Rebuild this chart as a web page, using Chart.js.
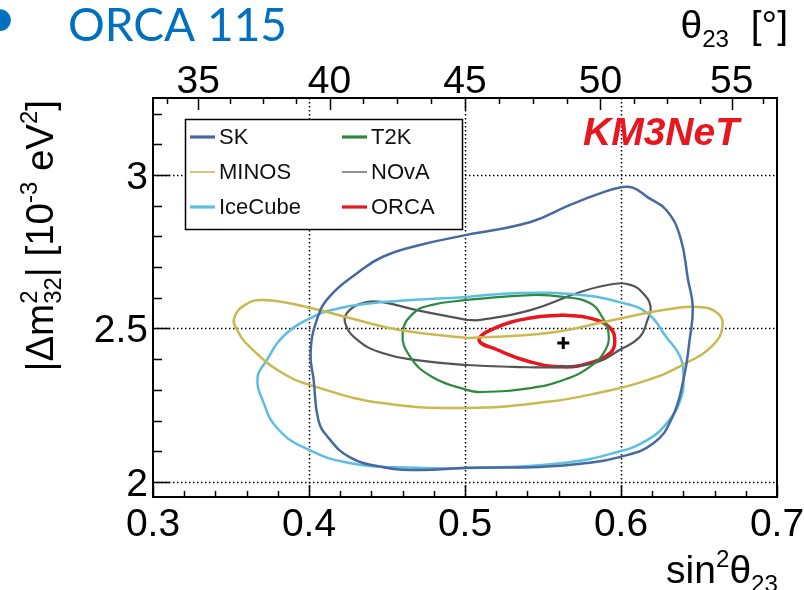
<!DOCTYPE html>
<html>
<head>
<meta charset="utf-8">
<script src="https://cdn.jsdelivr.net/npm/chart.js@4.4.1/dist/chart.umd.min.js"></script>
<style>
  html, body { margin: 0; padding: 0; background: #fff; }
  #wrap { width: 804px; height: 590px; }
</style>
</head>
<body>
<div id="wrap"><canvas id="c" width="804" height="590"></canvas></div>
<script>
// Allowed regions (90% CL) in the sin^2(theta23) – |dm^2_32| plane.

// Axis ticks and labels
const xMajor = [0.3, 0.4, 0.5, 0.6, 0.7];
const xLabels = ['0.3', '0.4', '0.5', '0.6', '0.7'];
const xGrid = [0.4, 0.5, 0.6];
const yMajor = [2, 2.5, 3];
const yLabels = ['2', '2.5', '3'];
const yGrid = [2, 2.5, 3];
const thetaMajor = [35, 40, 45, 50, 55];
const thetaLabels = ['35', '40', '45', '50', '55'];

// Contour outlines (sin^2 theta23, |dm^2_32| in 1e-3 eV^2)
const skX = [0.501, 0.542, 0.567, 0.587, 0.601, 0.608, 0.617, 0.629, 0.638, 0.643, 0.646, 0.644, 0.640, 0.633, 0.621, 0.599, 0.574, 0.548, 0.501, 0.471, 0.447, 0.426, 0.412, 0.406, 0.403, 0.401, 0.405, 0.413, 0.431, 0.447, 0.471];
const skY = [2.805, 2.847, 2.902, 2.941, 2.961, 2.958, 2.928, 2.886, 2.798, 2.658, 2.570, 2.463, 2.332, 2.212, 2.127, 2.081, 2.059, 2.049, 2.046, 2.039, 2.049, 2.081, 2.147, 2.202, 2.332, 2.420, 2.528, 2.603, 2.681, 2.733, 2.772];

const minosX = [0.501, 0.553, 0.595, 0.627, 0.649, 0.662, 0.665, 0.659, 0.642, 0.617, 0.585, 0.553, 0.501, 0.447, 0.405, 0.383, 0.362, 0.354, 0.352, 0.359, 0.371, 0.401, 0.426, 0.458];
const minosY = [2.469, 2.485, 2.528, 2.560, 2.570, 2.550, 2.505, 2.446, 2.388, 2.332, 2.290, 2.261, 2.241, 2.257, 2.309, 2.355, 2.440, 2.495, 2.534, 2.577, 2.593, 2.567, 2.534, 2.495];

const iceX = [0.501, 0.535, 0.574, 0.599, 0.617, 0.629, 0.638, 0.640, 0.638, 0.631, 0.617, 0.595, 0.563, 0.510, 0.469, 0.426, 0.396, 0.379, 0.371, 0.367, 0.373, 0.383, 0.401, 0.420, 0.447];
const iceY = [2.603, 2.616, 2.609, 2.586, 2.550, 2.472, 2.407, 2.332, 2.267, 2.202, 2.137, 2.094, 2.062, 2.046, 2.046, 2.062, 2.114, 2.179, 2.257, 2.339, 2.397, 2.472, 2.534, 2.567, 2.586];

const t2kX = [0.501, 0.542, 0.563, 0.580, 0.588, 0.592, 0.590, 0.580, 0.563, 0.542, 0.510, 0.501, 0.479, 0.465, 0.460, 0.467, 0.479];
const t2kY = [2.593, 2.609, 2.603, 2.583, 2.537, 2.485, 2.430, 2.375, 2.332, 2.306, 2.293, 2.300, 2.342, 2.407, 2.485, 2.550, 2.577];

const novaX = [0.501, 0.510, 0.542, 0.574, 0.595, 0.606, 0.614, 0.619, 0.617, 0.612, 0.599, 0.585, 0.563, 0.531, 0.501, 0.469, 0.447, 0.431, 0.423, 0.426, 0.437, 0.447, 0.469];
const novaY = [2.528, 2.528, 2.560, 2.619, 2.645, 2.642, 2.616, 2.570, 2.528, 2.472, 2.430, 2.391, 2.375, 2.375, 2.381, 2.397, 2.420, 2.463, 2.521, 2.560, 2.586, 2.586, 2.560];

const orcaX = [0.563, 0.580, 0.593, 0.596, 0.593, 0.580, 0.563, 0.542, 0.521, 0.509, 0.521, 0.542];
const orcaY = [2.544, 2.534, 2.502, 2.456, 2.420, 2.388, 2.375, 2.391, 2.430, 2.463, 2.505, 2.534];

// ORCA best fit
const bestX = [0.563];
const bestY = [2.453];

const FONT = '"Liberation Sans", Arial, Helvetica, sans-serif';

const series = [
  { label: 'SK',      xs: skX,    ys: skY,    color: '#46699f', width: 2.5, legendWidth: 3.2 },
  { label: 'MINOS',   xs: minosX, ys: minosY, color: '#c9b94e', width: 2.5, legendWidth: 1.6 },
  { label: 'IceCube', xs: iceX,   ys: iceY,   color: '#5cbfe2', width: 2.5, legendWidth: 3.2 },
  { label: 'T2K',     xs: t2kX,   ys: t2kY,   color: '#2b8a3e', width: 2.2, legendWidth: 3.2 },
  { label: 'NOvA',    xs: novaX,  ys: novaY,  color: '#545454', width: 2.2, legendWidth: 1.3 },
  { label: 'ORCA',    xs: orcaX,  ys: orcaY,  color: '#e8161e', width: 3.5, legendWidth: 3.2 }
];

function closedLoop(xs, ys) {
  const pts = xs.map((x, i) => ({ x: x, y: ys[i] }));
  pts.push({ x: xs[0], y: ys[0] });
  return pts;
}

const datasets = series.map(s => ({
  label: s.label,
  data: closedLoop(s.xs, s.ys),
  showLine: true,
  borderColor: s.color,
  borderWidth: s.width,
  pointRadius: 0,
  tension: 0.45,
  fill: false,
  legendWidth: s.legendWidth
}));
datasets.push({
  label: 'best fit',
  data: bestX.map((x, i) => ({ x: x, y: bestY[i] })),
  showLine: false,
  pointStyle: 'cross',
  pointRadius: 6,
  borderColor: '#000',
  borderWidth: 3,
  isMarker: true
});

// Text with super/subscripts: parts = {t, s (scale), dy (em), noAdv}
function drawRich(ctx, parts, size, align) {
  let total = 0;
  const items = parts.map(p => {
    const fs = size * (p.s || 1);
    const font = (p.style || '') + fs.toFixed(1) + 'px ' + FONT;
    ctx.font = font;
    const w = ctx.measureText(p.t).width;
    const it = { p: p, font: font, x: total };
    if (!p.noAdv) total += w;
    return it;
  });
  const x0 = align === 'right' ? -total : (align === 'center' ? -total / 2 : 0);
  ctx.textAlign = 'left';
  ctx.textBaseline = 'alphabetic';
  items.forEach(it => {
    ctx.font = it.font;
    ctx.fillText(it.p.t, x0 + it.x, (it.p.dy || 0) * size);
  });
}

const decor = {
  id: 'decor',
  beforeDraw(chart) {
    const ctx = chart.ctx;
    ctx.save();
    ctx.fillStyle = '#fff';
    ctx.fillRect(0, 0, chart.width, chart.height);
    ctx.restore();
  },
  beforeDatasetsDraw(chart) {
    const { ctx, chartArea: a, scales: { x, y } } = chart;
    ctx.save();
    ctx.strokeStyle = '#000';
    ctx.lineWidth = 1.5;
    ctx.setLineDash([1.5, 2.5]);
    xGrid.forEach(v => {
      const px = Math.round(x.getPixelForValue(v)) + 0.5;
      ctx.beginPath(); ctx.moveTo(px, a.top); ctx.lineTo(px, a.bottom); ctx.stroke();
    });
    yGrid.forEach(v => {
      const py = Math.round(y.getPixelForValue(v)) + 0.5;
      ctx.beginPath(); ctx.moveTo(a.left, py); ctx.lineTo(a.right, py); ctx.stroke();
    });
    ctx.restore();
  },
  afterDatasetsDraw(chart) {
    const { ctx, chartArea: a, scales: { x, y } } = chart;
    ctx.save();

    // legend box
    const lx = 185, ly = 119, lw = 277, lh = 110;
    ctx.fillStyle = '#fff';
    ctx.fillRect(lx, ly, lw, lh);
    ctx.strokeStyle = '#000';
    ctx.lineWidth = 1.5;
    ctx.strokeRect(lx + 0.5, ly + 0.5, lw, lh);
    const cols = [190, 342];
    const rows = [137, 172, 207];
    const order = [['SK', 'MINOS', 'IceCube'], ['T2K', 'NOvA', 'ORCA']];
    ctx.font = '22px ' + FONT;
    ctx.textBaseline = 'middle';
    ctx.textAlign = 'left';
    order.forEach((col, ci) => {
      col.forEach((name, ri) => {
        const ds = chart.data.datasets.find(d => d.label === name);
        const cx = cols[ci], cy = rows[ri];
        ctx.strokeStyle = ds.borderColor;
        ctx.lineWidth = ds.legendWidth;
        ctx.beginPath(); ctx.moveTo(cx, cy); ctx.lineTo(cx + 25, cy); ctx.stroke();
        ctx.fillStyle = '#111';
        ctx.fillText(name, cx + 29, cy + 1);
      });
    });

    // experiment tag
    ctx.fillStyle = '#e8161e';
    ctx.font = 'italic bold 39px ' + FONT;
    ctx.textAlign = 'left';
    ctx.textBaseline = 'alphabetic';
    ctx.fillText('KM3NeT', 583, 145);

    // frame
    ctx.strokeStyle = '#000';
    ctx.lineWidth = 2;
    ctx.strokeRect(a.left, a.top, a.right - a.left, a.bottom - a.top);

    // ticks (inward)
    ctx.lineWidth = 1.5;
    ctx.beginPath();
    for (let i = 0; i <= 20; i++) {
      const v = 0.3 + i * 0.02;
      const px = Math.round(x.getPixelForValue(v)) + 0.5;
      const len = (i % 5 === 0) ? 12 : 6;
      ctx.moveTo(px, a.bottom); ctx.lineTo(px, a.bottom - len);
    }
    for (let i = 0; i <= 12; i++) {
      const v = 2 + i * 0.1;
      const py = Math.round(y.getPixelForValue(v)) + 0.5;
      const len = (i % 5 === 0) ? 17 : 9;
      ctx.moveTo(a.left, py); ctx.lineTo(a.left + len, py);
    }
    // top axis in theta23 degrees
    for (let i = 0; i <= 18; i++) {
      const deg = 33.75 + i * 1.25;
      const s = Math.sin(deg * Math.PI / 180) ** 2;
      const px = Math.round(x.getPixelForValue(s)) + 0.5;
      const len = (i % 4 === 1) ? 12 : 6;
      ctx.moveTo(px, a.top); ctx.lineTo(px, a.top + len);
    }
    ctx.stroke();

    // tick labels
    ctx.fillStyle = '#000';
    ctx.font = '39px ' + FONT;
    ctx.textBaseline = 'alphabetic';
    ctx.textAlign = 'center';
    xMajor.forEach((v, i) => ctx.fillText(xLabels[i], x.getPixelForValue(v), 536));
    thetaMajor.forEach((deg, i) => {
      const s = Math.sin(deg * Math.PI / 180) ** 2;
      ctx.fillText(thetaLabels[i], x.getPixelForValue(s), 93);
    });
    ctx.textAlign = 'right';
    yMajor.forEach((v, i) => ctx.fillText(yLabels[i], 148, y.getPixelForValue(v) + 14));

    // axis titles
    ctx.save();
    ctx.translate(778, 583);
    drawRich(ctx, [
      { t: 'sin' }, { t: '2', s: 0.62, dy: -0.42 }, { t: 'θ' }, { t: '23', s: 0.62, dy: 0.22 }
    ], 39, 'right');
    ctx.restore();

    ctx.save();
    ctx.translate(788, 38);
    drawRich(ctx, [
      { t: 'θ' }, { t: '23', s: 0.62, dy: 0.22 }, { t: '  [°]' }
    ], 39, 'right');
    ctx.restore();

    ctx.save();
    ctx.translate(53, 100);
    ctx.rotate(-Math.PI / 2);
    drawRich(ctx, [
      { t: '|Δm' }, { t: '2', s: 0.62, dy: -0.42, noAdv: true }, { t: '32', s: 0.62, dy: 0.22 },
      { t: '| [10' }, { t: '-3', s: 0.62, dy: -0.42 }, { t: ' eV' }, { t: '2', s: 0.62, dy: -0.42 }, { t: ']' }
    ], 38.5, 'right');
    ctx.restore();

    // slide heading
    ctx.fillStyle = '#0070c0';
    ctx.font = '46px Lato, "Open Sans", sans-serif';
    ctx.textAlign = 'left';
    ctx.textBaseline = 'alphabetic';
    ctx.fillText('ORCA 115', 68, 41);
    ctx.font = '80px "Liberation Sans", Arial, sans-serif';
    ctx.textAlign = 'center';
    ctx.fillText('•', 0, 47);

    ctx.restore();
  }
};

new Chart(document.getElementById('c'), {
  type: 'scatter',
  data: { datasets: datasets },
  options: {
    responsive: false,
    animation: false,
    events: [],
    layout: { padding: { left: 153, top: 98, right: 27, bottom: 93 } },
    plugins: { legend: { display: false }, tooltip: { enabled: false } },
    scales: {
      x: { type: 'linear', min: 0.3, max: 0.7, display: false },
      y: { type: 'linear', min: 1.951, max: 3.251, display: false }
    }
  },
  plugins: [decor]
});
</script>
</body>
</html>
